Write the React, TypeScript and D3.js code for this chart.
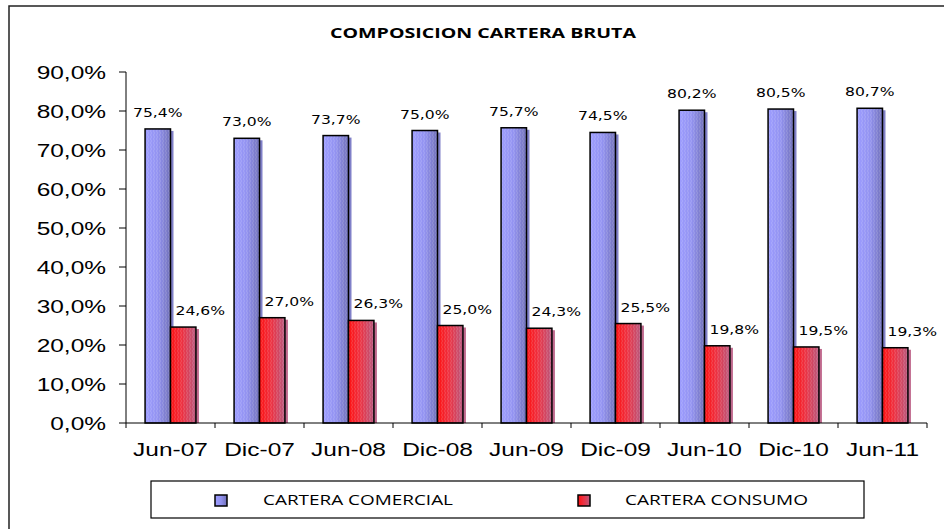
import React from "react";
import * as d3 from "d3";

const categories = ["Jun-07", "Dic-07", "Jun-08", "Dic-08", "Jun-09", "Dic-09", "Jun-10", "Dic-10", "Jun-11"];
const comercial = [75.4, 73.0, 73.7, 75.0, 75.7, 74.5, 80.2, 80.5, 80.7];
const consumo = [24.6, 27.0, 26.3, 25.0, 24.3, 25.5, 19.8, 19.5, 19.3];
const yTicks = [0, 10, 20, 30, 40, 50, 60, 70, 80, 90];
const seriesNames = ["CARTERA COMERCIAL", "CARTERA CONSUMO"];
const title = "COMPOSICION CARTERA BRUTA";

const W = 944, H = 529;
const fmt = (v: number) => v.toFixed(1).replace(".", ",") + "%";

export default function App() {
  const x0 = d3.scaleBand<string>().domain(categories).range([126, 927]).padding(0);
  const x1 = d3.scaleBand<string>().domain(["a", "b"]).range([0, x0.bandwidth()]).paddingInner(0).paddingOuter(0.75);
  const y = d3.scaleLinear().domain([0, 90]).range([423, 72]);
  const bw = x1.bandwidth();
  const axisFont = "'Liberation Sans', Arial, sans-serif";
  const labelFont = "'DejaVu Sans', Verdana, sans-serif";
  const sansFont = "'Open Sans', 'Noto Sans', sans-serif";

  const bars = (vals: number[], key: "a" | "b", fill: string, side: string) =>
    vals.map((v, i) => {
      const bx = (x0(categories[i]) as number) + (x1(key) as number);
      const by = y(v);
      const h = y(0) - by;
      return (
        <g key={key + i}>
          <rect x={bx + bw} y={by + 2} width={3} height={h - 2} fill={side} />
          <rect x={bx} y={by} width={bw} height={h} fill={fill} />
          <rect x={bx} y={by} width={bw} height={h} fill="url(#tex)" />
          <rect x={bx} y={by} width={bw} height={h} fill="none" stroke="#000" strokeWidth={1.5} />
        </g>
      );
    });

  const labels = (vals: number[], key: "a" | "b", dx: number) =>
    vals.map((v, i) => {
      const cx = (x0(categories[i]) as number) + (x1(key) as number) + bw / 2 + dx;
      return (
        <text key={"l" + key + i} transform={`translate(${cx},${y(v) - 12}) scale(1.2,1)`} textAnchor="middle"
          fontFamily={labelFont} fontSize={13} fill="#000">{fmt(v)}</text>
      );
    });

  return (
    <svg width={W} height={H} style={{ position: "absolute", left: 0, top: 0, display: "block", background: "#fff" }}>
      <defs>
        <linearGradient id="gBlue" x1="0" x2="1" y1="0" y2="0">
          <stop offset="0" stopColor="#9c9cff" />
          <stop offset="0.5" stopColor="#9292f0" />
          <stop offset="1" stopColor="#7070b8" />
        </linearGradient>
        <linearGradient id="gRed" x1="0" x2="1" y1="0" y2="0">
          <stop offset="0" stopColor="#ff1010" />
          <stop offset="0.45" stopColor="#ee3040" />
          <stop offset="1" stopColor="#b85a80" />
        </linearGradient>
        <pattern id="tex" width="3" height="4" patternUnits="userSpaceOnUse">
          <path d="M1,0 Q2,1 1,2 Q0,3 1,4" stroke="#ffffff" strokeOpacity="0.22" fill="none" strokeWidth="0.8" />
        </pattern>
      </defs>
      {/* frame */}
      <path d={`M9,${H} L9,6 L${W},6`} fill="none" stroke="#222" strokeWidth={1.5} />
      <text x={483} y={38} textAnchor="middle" fontFamily={sansFont} fontWeight={700}
        fontSize={15} textLength={306} lengthAdjust="spacingAndGlyphs" fill="#000">{title}</text>

      {bars(comercial, "a", "url(#gBlue)", "#8080c8")}
      {bars(consumo, "b", "url(#gRed)", "#c06a8e")}

      {/* y axis */}
      <line x1={126} x2={126} y1={y(90)} y2={y(0)} stroke="#000" strokeWidth={1} />
      {yTicks.map((t) => (
        <g key={"yt" + t}>
          <line x1={119} x2={126} y1={y(t)} y2={y(t)} stroke="#000" strokeWidth={1} />
          <text transform={`translate(106,${y(t) + 6.5}) scale(1.36,1)`} textAnchor="end" fontFamily={axisFont}
            fontSize={18} fill="#000">{fmt(t)}</text>
        </g>
      ))}
      {/* x axis */}
      <line x1={126} x2={927} y1={y(0)} y2={y(0)} stroke="#000" strokeWidth={1} />
      {[...categories.map((c) => x0(c) as number), 927].map((tx, i) => (
        <line key={"xt" + i} x1={tx} x2={tx} y1={y(0)} y2={y(0) + 5} stroke="#000" strokeWidth={1} />
      ))}
      {categories.map((c) => (
        <text key={"xl" + c} transform={`translate(${(x0(c) as number) + x0.bandwidth() / 2},456) scale(1.36,1)`}
          textAnchor="middle" fontFamily={axisFont} fontSize={18} fill="#000">{c}</text>
      ))}

      {labels(comercial, "a", 0)}
      {labels(consumo, "b", 17)}

      {/* legend */}
      <rect x={151} y={481} width={713} height={37} fill="#fff" stroke="#000" strokeWidth={1.2} />
      <rect x={215} y={495} width={12} height={11} fill="url(#gBlue)" stroke="#000" strokeWidth={1.5} />
      <rect x={578} y={495} width={12} height={11} fill="url(#gRed)" stroke="#000" strokeWidth={1.5} />
      <text x={263} y={505} fontFamily={sansFont} fontSize={14} textLength={190} lengthAdjust="spacingAndGlyphs" fill="#000">{seriesNames[0]}</text>
      <text x={625} y={505} fontFamily={sansFont} fontSize={14} textLength={183} lengthAdjust="spacingAndGlyphs" fill="#000">{seriesNames[1]}</text>
    </svg>
  );
}
